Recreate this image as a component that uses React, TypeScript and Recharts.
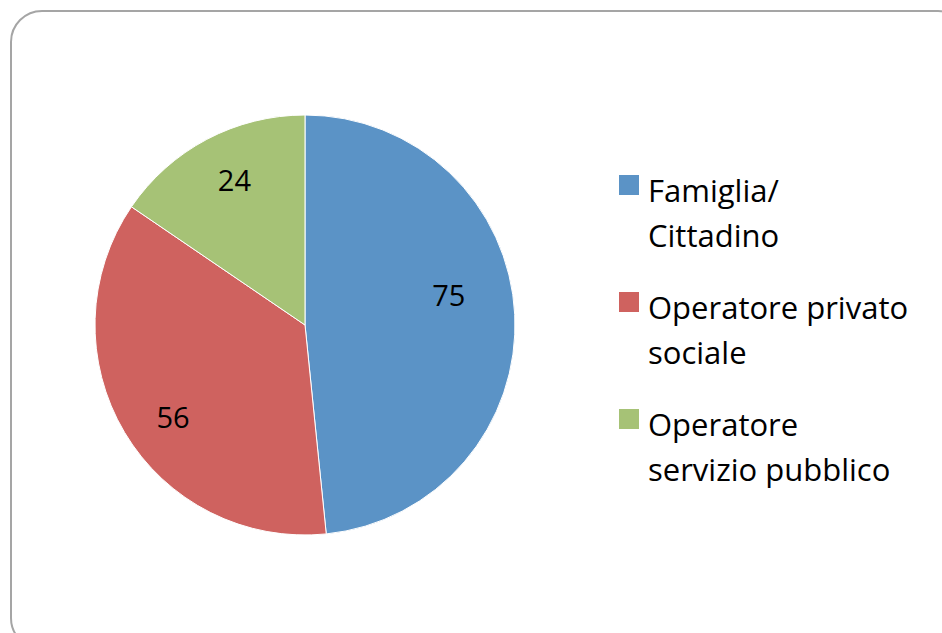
import React from "react";
import { PieChart, Pie, Cell, Legend } from "recharts";

const categories = ["Famiglia/\nCittadino", "Operatore privato\nsociale", "Operatore\nservizio pubblico"];
const values = [75, 56, 24];
const colors = ["#5B93C6", "#CF625F", "#A6C276"];

const data = categories.map((name, i) => ({ name, value: values[i] }));

const FONT = "'Open Sans', Lato, sans-serif";
const LABEL_ADJUST = [
  { da: 9, rf: 0.7 },
  { da: 4, rf: 0.765 },
  { da: -2, rf: 0.77 },
];

const RAD = Math.PI / 180;

const renderLabel = (props: any) => {
  const { cx, cy, midAngle, outerRadius, index, value } = props;
  const adj = LABEL_ADJUST[index] || { da: 0, rf: 0.75 };
  const a = (midAngle + adj.da) * RAD;
  const r = outerRadius * adj.rf;
  const x = cx + r * Math.cos(-a);
  const y = cy + r * Math.sin(-a);
  return (
    <text
      x={x}
      y={y}
      textAnchor="middle"
      dominantBaseline="central"
      fill="#000"
      style={{ fontFamily: FONT, fontSize: 29 }}
    >
      {value}
    </text>
  );
};

const LegendContent = () => {
  return (
    <div style={{ fontFamily: FONT, fontSize: 31, lineHeight: "45px", color: "#000" }}>
      {data.map((d, i) => (
        <div key={i} style={{ position: "relative", paddingLeft: 29, marginBottom: 27, whiteSpace: "pre-line" }}>
          <span
            style={{
              position: "absolute",
              left: 0,
              top: 7,
              width: 20,
              height: 20,
              background: colors[i],
            }}
          />
          {d.name}
        </div>
      ))}
    </div>
  );
};

export default function App() {
  return (
    <div style={{ position: "absolute", left: 0, top: 0, width: 942, height: 633, overflow: "hidden", background: "#fff" }}>
      <div
        style={{
          position: "absolute",
          left: 10,
          top: 10,
          width: 960,
          height: 640,
          border: "2px solid #a5a5a5",
          borderRadius: 32,
          boxSizing: "border-box",
          filter: "blur(0.6px)",
        }}
      />
      <div style={{ position: "absolute", left: 0, top: 0 }}>
        <PieChart width={942} height={633}>
          <Pie
            data={data}
            dataKey="value"
            nameKey="name"
            cx={300}
            cy={320}
            outerRadius={210}
            startAngle={90}
            endAngle={-270}
            stroke="#ffffff"
            strokeWidth={1}
            label={renderLabel}
            labelLine={false}
            isAnimationActive={false}
          >
            {data.map((d, i) => (
              <Cell key={d.name} fill={colors[i]} />
            ))}
          </Pie>
          <Legend
            content={<LegendContent />}
            layout="vertical"
            wrapperStyle={{ position: "absolute", left: 619, top: 168, width: 320 }}
          />
        </PieChart>
      </div>
    </div>
  );
}
